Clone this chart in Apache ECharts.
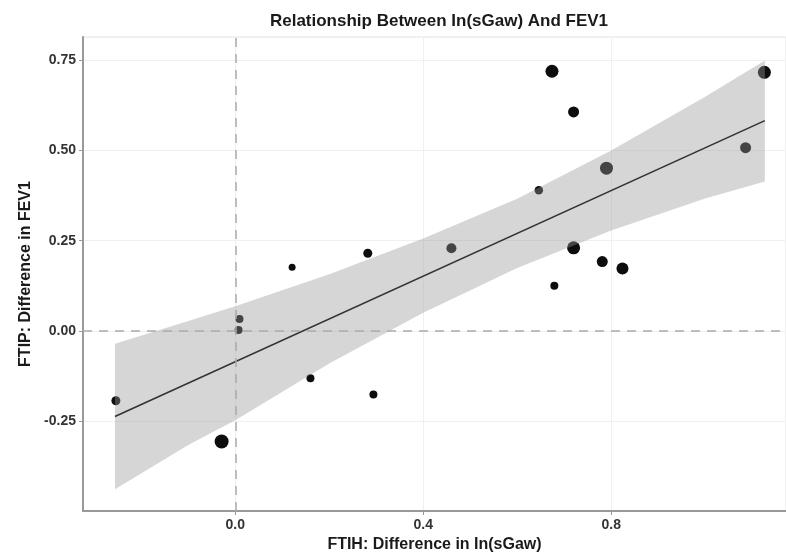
<!DOCTYPE html>
<html>
<head>
<meta charset="utf-8">
<script src="https://cdn.jsdelivr.net/npm/echarts@6/dist/echarts.min.js"></script>
<style>
  html, body { margin: 0; padding: 0; background: #fff; }
  #chart { width: 786px; height: 553px; }
</style>
</head>
<body>
<div id="chart"></div>
<script>
// points
const xVals = [-0.254, -0.029, 0.009, 0.007, 0.121, 0.160, 0.282, 0.294, 0.460, 0.646,
               0.674, 0.720, 0.720, 0.679, 0.781, 0.824, 0.790, 1.086, 1.126]
const yVals = [-0.194, -0.307, 0.033, 0.002, 0.176, -0.132, 0.215, -0.177, 0.229, 0.390,
               0.720, 0.607, 0.230, 0.125, 0.192, 0.173, 0.451, 0.508, 0.717]
// relative point weight (drawn as marker size)
const weight = [3, 8, 2, 2, 1, 2, 3, 2, 4, 2.5, 7, 5, 7, 2, 5, 6, 7, 5, 7]

// fitted line ends and confidence band
const fitX = [-0.256, 1.127]
const fitY = [-0.238, 0.583]
const bandX = [-0.256, -0.1, 0, 0.2, 0.4, 0.6, 0.8, 1.0, 1.127]
const bandUpper = [-0.036, 0.027, 0.068, 0.157, 0.256, 0.366, 0.500, 0.649, 0.750]
const bandLower = [-0.440, -0.317, -0.248, -0.091, 0.050, 0.174, 0.278, 0.367, 0.414]

const xTicks = [0, 0.4, 0.8]
const yTicks = [-0.25, 0, 0.25, 0.5, 0.75]

const font = 'Liberation Sans, Arial, sans-serif'
const chart = echarts.init(document.getElementById('chart'))

const pts = xVals.map((x, i) => [x, yVals[i], weight[i]])

chart.setOption({
  animation: false,
  graphic: [{
    type: 'text',
    x: 439,
    y: 21,
    style: {
      text: 'Relationship Between In(sGaw) And FEV1',
      align: 'center',
      verticalAlign: 'middle',
      font: 'bold 17px ' + font,
      fill: '#1a1a1a'
    }
  }],
  grid: {
    left: 83,
    right: 0,
    top: 37,
    bottom: 42,
    show: true,
    borderColor: '#e2e2e2',
    borderWidth: 1,
    outerBoundsMode: 'none'
  },
  xAxis: {
    type: 'value',
    min: -0.324,
    max: 1.172,
    name: 'FTIH: Difference in In(sGaw)',
    nameLocation: 'middle',
    nameGap: 24,
    nameTextStyle: { fontFamily: font, fontWeight: 'bold', fontSize: 16, color: '#1a1a1a' },
    axisLine: { onZero: false, lineStyle: { color: '#999', width: 2 } },
    axisTick: { show: true, length: 4, customValues: xTicks, lineStyle: { color: '#999' } },
    axisLabel: {
      customValues: xTicks,
      formatter: v => v.toFixed(1),
      fontFamily: font, fontWeight: 'bold', fontSize: 14, color: '#333', margin: 7
    },
    splitLine: { show: true, lineStyle: { color: '#f0f0f0', width: 1 } }
  },
  yAxis: {
    type: 'value',
    min: -0.5,
    max: 0.815,
    name: 'FTIP: Difference in FEV1',
    nameLocation: 'middle',
    nameGap: 49,
    nameTextStyle: { fontFamily: font, fontWeight: 'bold', fontSize: 16, color: '#1a1a1a' },
    axisLine: { show: true, onZero: false, lineStyle: { color: '#999', width: 2 } },
    axisTick: { show: true, length: 4, customValues: yTicks, lineStyle: { color: '#999' } },
    axisLabel: {
      customValues: yTicks,
      formatter: v => v.toFixed(2),
      fontFamily: font, fontWeight: 'bold', fontSize: 14, color: '#333', margin: 7
    },
    splitLine: { show: true, lineStyle: { color: '#f0f0f0', width: 1 } }
  },
  series: [
    {
      type: 'scatter',
      z: 2,
      data: pts,
      symbolSize: d => 6 + d[2],
      itemStyle: { color: '#0d0d0d', opacity: 1 }
    },
    {
      type: 'custom',
      z: 3,
      clip: true,
      data: [[bandX[0], bandLower[0]]],
      renderItem: (params, api) => {
        const up = bandX.map((x, i) => api.coord([x, bandUpper[i]]))
        const lo = bandX.map((x, i) => api.coord([x, bandLower[i]])).reverse()
        return {
          type: 'polygon',
          shape: { points: up.concat(lo), smooth: 0 },
          style: { fill: '#999999', opacity: 0.4 }
        }
      }
    },
    {
      type: 'line',
      z: 4,
      data: fitX.map((x, i) => [x, fitY[i]]),
      symbol: 'none',
      lineStyle: { color: '#333', width: 1.6 },
      markLine: {
        silent: true,
        symbol: 'none',
        label: { show: false },
        lineStyle: { color: '#aaa', width: 1.5, type: [9, 7] },
        data: [{ xAxis: 0 }, { yAxis: 0 }]
      }
    }
  ]
})
</script>
</body>
</html>
